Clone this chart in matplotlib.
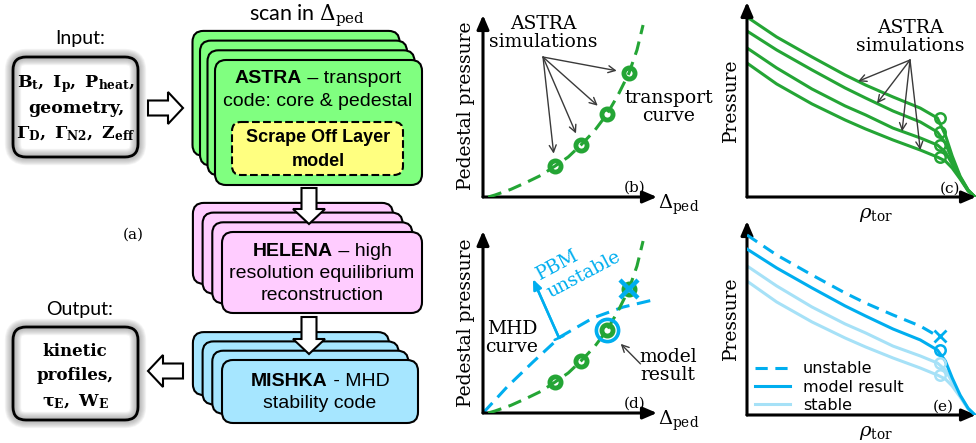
import numpy as np
import matplotlib.pyplot as plt
from matplotlib.patches import FancyBboxPatch, FancyArrow

plt.rcParams['mathtext.fontset'] = 'dejavuserif'

# ------------------------- data -------------------------
# (b), (d): pedestal pressure against pedestal width (arbitrary units)
transport_delta = [0.03, 0.069, 0.16, 0.253, 0.335, 0.414, 0.49, 0.563, 0.64, 0.713, 0.776, 0.839, 0.885, 0.92]
transport_p = [0.0, 0.011, 0.042, 0.082, 0.12, 0.170, 0.22, 0.286, 0.363, 0.456, 0.56, 0.681, 0.808, 0.945]
sim_delta = [0.414, 0.563, 0.713, 0.839]
sim_p = [0.170, 0.286, 0.456, 0.681]
mhd_delta = [0.0, 0.07, 0.138, 0.287, 0.443, 0.632, 0.805, 0.977]
mhd_p = [0.0, 0.072, 0.143, 0.28, 0.418, 0.522, 0.582, 0.621]
model_idx = 2      # last stable simulation
unstable_idx = 3   # first one above the MHD curve

# (c), (e): pressure profiles against rho_tor
rho = [0.0, 0.13, 0.285, 0.43, 0.52, 0.64, 0.76, 0.835, 0.87, 0.90, 0.935, 0.97, 1.0]
profiles = [
    [1.000, 0.889, 0.778, 0.678, 0.622, 0.556, 0.494, 0.439, 0.344, 0.228, 0.115, 0.039, 0.0],
    [0.922, 0.817, 0.706, 0.606, 0.550, 0.478, 0.417, 0.361, 0.300, 0.206, 0.110, 0.037, 0.0],
    [0.828, 0.717, 0.600, 0.506, 0.456, 0.383, 0.328, 0.289, 0.250, 0.183, 0.105, 0.035, 0.0],
    [0.744, 0.628, 0.517, 0.428, 0.378, 0.317, 0.261, 0.222, 0.200, 0.161, 0.100, 0.033, 0.0],
]
knee = 7                                   # index of the pedestal top in rho
arrow_rho_c = [0.487, 0.57, 0.68, 0.76]    # where the (c) arrows land

GREEN = '#24A535'
BLUE = '#00AEEF'
LIGHT_BLUE = '#A6E1F7'
SERIF = 'DejaVu Serif'
SANS = 'Liberation Sans'
CALI = 'Lato'
FS = 13.5      # serif annotation size

fig = plt.figure(figsize=(9.76, 4.43), dpi=100)
# background axes in pixel units for the flow chart
bg = fig.add_axes([0, 0, 1, 1])
bg.set_xlim(0, 976)
bg.set_ylim(443, 0)
bg.axis('off')


def rbox(x0, y0, x1, y1, fc, ls='-', r=11, lw=1.5, z=2):
    p = FancyBboxPatch((x0, y0), x1 - x0, y1 - y0,
                       boxstyle=f'round,pad=0,rounding_size={r}',
                       fc=fc, ec='black', lw=lw, ls=ls, zorder=z)
    bg.add_patch(p)


def mixed_line(xc, y, parts, size, family=SANS):
    """centre a line made of (text, weight) pieces"""
    r = fig.canvas.get_renderer()
    texts = [bg.text(0, y, s, fontsize=size, fontweight=w, family=family,
                     ha='left', va='center', zorder=10) for s, w in parts]
    widths = [t.get_window_extent(r).width for t in texts]
    x = xc - sum(widths) / 2
    for t, wd in zip(texts, widths):
        t.set_x(x)
        x += wd


def block_arrow(x, y, dx, dy):
    bg.add_patch(FancyArrow(x, y, dx, dy, width=15, head_width=32, head_length=15,
                            length_includes_head=True, fc='white', ec='black',
                            lw=1.5, zorder=8))


# ---- input / output boxes with soft shadow
for (x0, y0, x1, y1) in [(13, 57, 138, 157), (13, 327, 138, 420)]:
    for i in range(9, 0, -1):
        bg.add_patch(FancyBboxPatch((x0, y0), x1 - x0, y1 - y0,
                                    boxstyle='round,pad=0,rounding_size=13',
                                    fc='none', ec='0.4', lw=i * 1.3, alpha=0.07, zorder=1))
    rbox(x0, y0, x1, y1, 'none', r=13, lw=2, z=3)

bg.text(80, 38, 'Input:', fontsize=14, family=CALI, ha='center', va='center')
bg.text(80, 310, 'Output:', fontsize=14, family=CALI, ha='center', va='center')
bg.text(76, 84, r'$\mathbf{B_t,\ I_p,\ P_{heat},}$', fontsize=12.5, ha='center', va='center')
bg.text(76, 108, 'geometry,', fontsize=12.5, family=SERIF, fontweight='bold', ha='center', va='center')
bg.text(76, 134, r'$\mathbf{\Gamma_D,\ \Gamma_{N2},\ Z_{eff}}$', fontsize=12.5, ha='center', va='center')
bg.text(75, 351, 'kinetic', fontsize=12, family=SERIF, fontweight='bold', ha='center', va='center')
bg.text(75, 376, 'profiles,', fontsize=12, family=SERIF, fontweight='bold', ha='center', va='center')
bg.text(75, 402, r'$\mathbf{\tau_E,\ W_E}$', fontsize=12.5, ha='center', va='center')
bg.text(133, 235, '(a)', fontsize=11, family=SERIF, ha='center', va='center')

# ---- stacks of code boxes
stacks = [((215, 60, 422, 185), (7.5, 9.7), '#80FF80'),
          ((222, 232, 422, 313), (9.7, 9.7), '#FFCCFF'),
          ((222, 360, 418, 423), (9.7, 9.3), '#A6E6FF')]
for (x0, y0, x1, y1), (dx, dy), fc in stacks:
    for k in (3, 2, 1, 0):
        rbox(x0 - k * dx, y0 - k * dy, x1 - k * dx, y1 - k * dy, fc)

rbox(232, 122, 403, 175, '#FFFF80', ls='--', r=9, z=4)
bg.text(307, 16, r'scan in $\Delta_{\mathrm{ped}}$', fontsize=15.5, family=CALI, ha='center', va='center')
mixed_line(318, 78, [('ASTRA', 'bold'), (' \u2013 transport', 'normal')], 14)
mixed_line(318, 101, [('code: core & pedestal', 'normal')], 14)
mixed_line(318, 138, [('Scrape Off Layer', 'bold')], 13)
mixed_line(318, 161, [('model', 'bold')], 13)
mixed_line(322, 251, [('HELENA', 'bold'), (' \u2013 high', 'normal')], 14)
mixed_line(322, 273, [('resolution equilibrium', 'normal')], 14)
mixed_line(322, 296, [('reconstruction', 'normal')], 14)
mixed_line(320, 381, [('MISHKA', 'bold'), (' - MHD', 'normal')], 14)
mixed_line(320, 403, [('stability code', 'normal')], 14)

block_arrow(148, 108, 35, 0)
block_arrow(309, 188, 0, 36)
block_arrow(309, 317, 0, 37)
block_arrow(183, 371, -35, 0)


# ---- plot panels
def px_axes(left, top, right, bottom, xmax, ymax):
    ax = fig.add_axes([left / 976, 1 - bottom / 443, (right - left) / 976, (bottom - top) / 443])
    ax.patch.set_visible(False)
    for s in ax.spines.values():
        s.set_visible(False)
    ax.set_xticks([])
    ax.set_yticks([])
    ax.set_xlim(0, xmax)
    ax.set_ylim(0, ymax)
    for xy in [(1, 0), (0, 1)]:
        ax.annotate('', xy=xy, xytext=(0, 0), xycoords='axes fraction',
                    arrowprops=dict(arrowstyle='-|>,head_length=0.7,head_width=0.3',
                                    lw=2.2, color='black', shrinkA=0, shrinkB=0,
                                    mutation_scale=12))
    return ax


thin = dict(arrowstyle='->,head_length=0.5,head_width=0.25', lw=1.0, color='#3a3a3a',
            shrinkA=0)

# (b)
ax_b = px_axes(483, 15, 657, 197, 1.0, 1.0)
ax_b.plot(sim_delta, sim_p, 'o', ms=8, mfc='white', mec=GREEN, mew=3.5, zorder=3)
ax_b.plot(transport_delta, transport_p, color=GREEN, lw=2.2, ls=(0, (4.5, 2.5)), zorder=4)
for d, p in zip(sim_delta, sim_p):
    ax_b.annotate('', xy=(d, p), xytext=(0.345, 0.769), arrowprops=dict(thin, shrinkB=9))
ax_b.text(0.345, 0.80, 'ASTRA\nsimulations', fontsize=FS, family=SERIF,
          ha='center', va='bottom', linespacing=1.0)
ax_b.text(1.065, 0.495, 'transport\ncurve', fontsize=FS, family=SERIF,
          ha='center', va='center', linespacing=1.0)
ax_b.text(0.87, 0.05, '(b)', fontsize=11, family=SERIF, ha='center', va='center')

# (d)
ax_d = px_axes(483, 231, 657, 413, 1.0, 1.0)
ax_d.plot(sim_delta, sim_p, 'o', ms=8, mfc='white', mec=GREEN, mew=3.5, zorder=3)
ax_d.plot(transport_delta, transport_p, color=GREEN, lw=2.2, ls=(0, (4.5, 2.5)), zorder=4)
ax_d.plot(mhd_delta, mhd_p, color=BLUE, lw=2.2, ls=(0, (4.5, 2.5)), zorder=2)
ax_d.plot(sim_delta[model_idx], sim_p[model_idx], 'o', ms=16, mfc='none', mec=BLUE, mew=2.6, zorder=5)
ax_d.plot(sim_delta[unstable_idx], sim_p[unstable_idx], 'x', ms=13, mec=BLUE, mew=3.2, zorder=5)
base = (0.437, np.interp(0.437, mhd_delta, mhd_p))
tip = (0.287, 0.736)
ax_d.annotate('', xy=tip, xytext=base,
              arrowprops=dict(arrowstyle='-|>,head_length=0.6,head_width=0.25', lw=1.8,
                              color=BLUE, shrinkA=0, shrinkB=0, mutation_scale=10))
ax_d.annotate('', xy=tip, xytext=base,
              arrowprops=dict(arrowstyle='|-|,widthA=0.35,widthB=0', lw=1.8,
                              color=BLUE, shrinkA=0, shrinkB=8, mutation_scale=10))
ax_d.text(0.55, 0.81, 'PBM\nunstable', fontsize=FS, family=SERIF, color=BLUE,
          rotation=28, rotation_mode='anchor', ha='center', va='center', ma='left',
          linespacing=1.2)
ax_d.text(0.167, 0.41, 'MHD\ncurve', fontsize=FS, family=SERIF, ha='center', va='center',
          linespacing=1.0)
ax_d.text(1.063, 0.258, 'model\nresult', fontsize=FS, family=SERIF, ha='center', va='center',
          linespacing=1.0)
ax_d.annotate('', xy=(sim_delta[model_idx], sim_p[model_idx]), xytext=(0.905, 0.27),
              arrowprops=dict(thin, shrinkB=14))
ax_d.text(0.87, 0.05, '(d)', fontsize=11, family=SERIF, ha='center', va='center')

bg.text(466, 106, 'Pedestal pressure', fontsize=FS, family=SERIF, rotation=90, ha='center', va='center')
bg.text(466, 323, 'Pedestal pressure', fontsize=FS, family=SERIF, rotation=90, ha='center', va='center')
bg.text(679, 205, r'$\Delta_{\mathrm{ped}}$', fontsize=14, ha='center', va='center')
bg.text(679, 421, r'$\Delta_{\mathrm{ped}}$', fontsize=14, ha='center', va='center')

# (c)
xmax_c = (976 - 747) / 228
ax_c = px_axes(747, 2, 976, 197, xmax_c, (197 - 2) / 180)
for prof in profiles:
    ax_c.plot(rho, prof, color=GREEN, lw=2.2, zorder=2)
    ax_c.plot(rho[knee] + 0.01, prof[knee], 'o', ms=7.5, mfc='none', mec=GREEN, mew=1.8, zorder=3)
for r_, prof in zip(arrow_rho_c, profiles):
    ax_c.annotate('', xy=(r_, np.interp(r_, rho, prof)), xytext=(0.715, 0.761),
                  arrowprops=dict(thin, shrinkB=0))
ax_c.text(0.715, 0.79, 'ASTRA\nsimulations', fontsize=FS, family=SERIF,
          ha='center', va='bottom', linespacing=1.0)
ax_c.text(0.89, 0.045, '(c)', fontsize=11, family=SERIF, ha='center', va='center')
bg.text(731, 100, 'Pressure', fontsize=FS, family=SERIF, rotation=90, ha='center', va='center')
bg.text(876, 214, r'$\rho_{\mathrm{tor}}$', fontsize=14, ha='center', va='center')

# (e)
ax_e = px_axes(747, 221, 976, 415, xmax_c, (415 - 221) / 180)
l_unst, = ax_e.plot(rho[:knee + 1], profiles[0][:knee + 1], color=BLUE, lw=2.2,
                    ls=(0, (4.0, 2.5)), zorder=3, label='unstable')
l_model, = ax_e.plot(rho, profiles[1], color=BLUE, lw=2.2, zorder=3, label='model result')
l_stab, = ax_e.plot(rho, profiles[2], color=LIGHT_BLUE, lw=2.2, zorder=2, label='stable')
ax_e.plot(rho, profiles[3], color=LIGHT_BLUE, lw=2.2, zorder=2)
ax_e.plot(rho[knee] + 0.01, profiles[0][knee], 'x', ms=8, mec=BLUE, mew=2, zorder=4)
ax_e.plot(rho[knee] + 0.01, profiles[1][knee], 'o', ms=7.5, mfc='none', mec=BLUE, mew=1.8, zorder=4)
for prof in profiles[2:]:
    ax_e.plot(rho[knee] + 0.01, prof[knee], 'o', ms=7.5, mfc='none', mec=LIGHT_BLUE, mew=1.8, zorder=3)
ax_e.legend(handles=[l_unst, l_model, l_stab], loc='lower left', bbox_to_anchor=(0.0, -0.03),
            frameon=False, prop=dict(family='DejaVu Sans', size=11.5), handlelength=2.2,
            handletextpad=0.8, labelspacing=0.2, borderaxespad=0.1)
ax_e.text(0.86, 0.045, '(e)', fontsize=11, family=SERIF, ha='center', va='center')
bg.text(731, 318, 'Pressure', fontsize=FS, family=SERIF, rotation=90, ha='center', va='center')
bg.text(876, 432, r'$\rho_{\mathrm{tor}}$', fontsize=14, ha='center', va='center')

fig.savefig('out.png', dpi=100)
